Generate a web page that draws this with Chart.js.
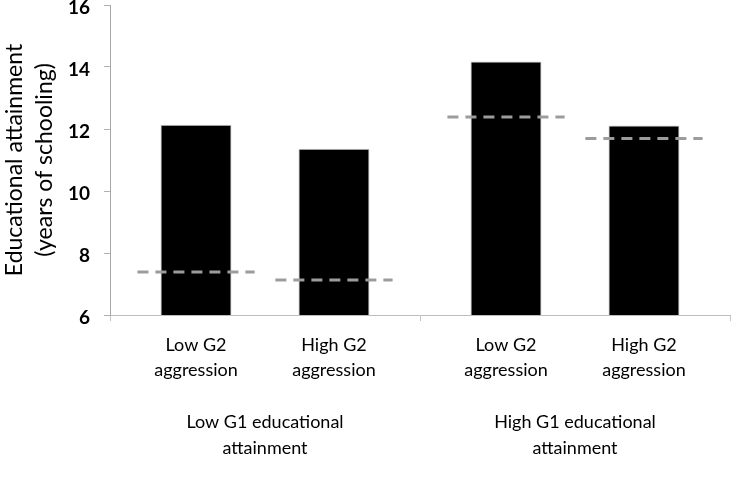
<!DOCTYPE html>
<html>
<head>
<meta charset="utf-8">
<script src="https://cdn.jsdelivr.net/npm/chart.js@4/dist/chart.umd.min.js"></script>
<style>
  html, body { margin: 0; padding: 0; background: #fff; }
</style>
</head>
<body>
<canvas id="grafico" width="741" height="479"></canvas>
<script>
// grupos (G1) e sub-grupos (G2)
let grupos = [["Low G1 educational", "attainment"], ["High G1 educational", "attainment"]];
let sub_labels = [["Low G2", "aggression"], ["High G2", "aggression"]];

// valores observados (barras)
let obs_low_g2 = [12.14, 14.18];
let obs_high_g2 = [11.36, 12.11];

// valores esperados (linhas tracejadas)
let esp_low_g2 = [7.39, 12.39];
let esp_high_g2 = [7.13, 11.69];

let y_ticks = [6, 8, 10, 12, 14, 16];

let esperados = [esp_low_g2, esp_high_g2];

let fonte = "Lato, 'Liberation Sans', sans-serif";

// desenha as linhas tracejadas e os rotulos de cada barra
let extras = {
    id: 'extras',
    afterDatasetsDraw(chart) {
        let ctx = chart.ctx;
        let y = chart.scales.y;
        ctx.save();
        ctx.strokeStyle = '#9c9c9c';
        ctx.lineWidth = 3;
        ctx.setLineDash([11, 7]);
        for (let i = 0; i < esperados.length; i++) {
            let meta = chart.getDatasetMeta(i);
            meta.data.forEach((bar, j) => {
                let w = bar.width * 1.65;
                let py = y.getPixelForValue(esperados[i][j]);
                ctx.beginPath();
                ctx.moveTo(bar.x - w / 2, py);
                ctx.lineTo(bar.x + w / 2, py);
                ctx.stroke();
            });
        }
        ctx.restore();
    },
    afterDraw(chart) {
        let ctx = chart.ctx;
        let base = chart.scales.y.getPixelForValue(y_ticks[0]);
        ctx.save();
        ctx.fillStyle = '#000';
        ctx.font = "18px " + fonte;
        ctx.textAlign = 'center';
        ctx.textBaseline = 'middle';
        for (let i = 0; i < sub_labels.length; i++) {
            let meta = chart.getDatasetMeta(i);
            meta.data.forEach((bar) => {
                ctx.fillText(sub_labels[i][0], bar.x, base + 30);
                ctx.fillText(sub_labels[i][1], bar.x, base + 55);
            });
        }
        ctx.restore();
    }
};

function grafico(ctx) {
    let datasets = [
        {
            label: 'Low G2 aggression',
            data: obs_low_g2,
            backgroundColor: '#000',
            borderColor: '#c8c8c8',
            borderWidth: 1
        },
        {
            label: 'High G2 aggression',
            data: obs_high_g2,
            backgroundColor: '#000',
            borderColor: '#c8c8c8',
            borderWidth: 1
        }
    ];

    return new Chart(ctx, {
        type: 'bar',
        data: { labels: grupos, datasets: datasets },
        plugins: [extras],
        options: {
            responsive: false,
            animation: false,
            layout: { padding: { left: 0, right: 11, top: 5, bottom: 0 } },
            datasets: { bar: { categoryPercentage: 0.89, barPercentage: 0.515 } },
            plugins: { legend: { display: false }, tooltip: { enabled: false } },
            scales: {
                x: {
                    grid: { offset: true, drawOnChartArea: false, tickLength: 6, color: '#c4c4c4' },
                    border: { color: '#bdbdbd', width: 1 },
                    afterFit: (s) => { s.height = 164; s.paddingLeft = 0; s.paddingRight = 0; },
                    ticks: {
                        padding: 88, maxRotation: 0, minRotation: 0, autoSkip: false,
                        color: '#000', font: { family: fonte, size: 18, lineHeight: 1.45 }
                    }
                },
                y: {
                    min: y_ticks[0],
                    max: y_ticks[y_ticks.length - 1],
                    grid: { drawOnChartArea: false, tickLength: 6, color: '#b0b0b0' },
                    border: { color: '#a8a8a8', width: 1 },
                    afterBuildTicks: (s) => { s.ticks = y_ticks.map(v => ({ value: v })); },
                    afterFit: (s) => { s.width = 110; s.paddingTop = 0; s.paddingBottom = 0; },
                    ticks: {
                        padding: 14, labelOffset: 3, color: '#000',
                        font: { family: fonte, size: 19, weight: 'bold' }
                    },
                    title: {
                        display: true,
                        text: ['Educational attainment', '(years of schooling)'],
                        color: '#000',
                        font: { family: fonte, size: 23, lineHeight: 1.3 },
                        padding: { top: 0, bottom: 0 }
                    }
                }
            }
        }
    });
}

let ctx = document.getElementById("grafico");
let chart = grafico(ctx);
</script>
</body>
</html>
